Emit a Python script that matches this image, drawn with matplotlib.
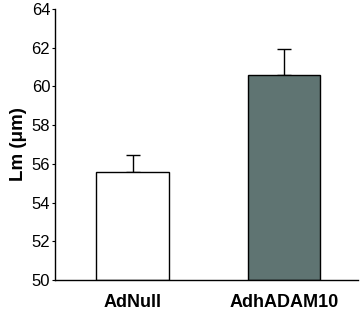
import matplotlib
matplotlib.use("Agg")
import matplotlib.pyplot as plt

groups = ["AdNull", "AdhADAM10"]
means = [55.6, 60.6]
errs = [0.85, 1.35]
colors = ["white", "#5f7472"]

plt.rcParams['font.family'] = ['Liberation Sans', 'DejaVu Sans']

fig = plt.figure(figsize=(3.6, 3.18), dpi=100)
ax = fig.add_axes([0.153, 0.1195, 0.841, 0.8522])

x = list(range(len(groups)))
ax.bar(x, [m - 50 for m in means], bottom=50, width=0.48, color=colors,
       edgecolor="black", linewidth=1.0, zorder=2)
ax.errorbar(x, means, yerr=[[0, 0], errs], fmt="none", ecolor="black",
            elinewidth=1.0, capsize=5, capthick=1.0, zorder=1)

ax.set_xlim(-0.512, 1.488)
ax.set_ylim(50, 64)
ax.set_yticks(range(50, 65, 2))
ax.set_xticks(x)
ax.set_xticklabels(groups, fontweight="bold", fontsize=13)
ax.tick_params(axis="x", length=0, pad=10)
ax.tick_params(axis="y", length=2.5, width=0.8, labelsize=12, pad=1)
ax.set_ylabel("Lm (μm)", fontweight="bold", fontsize=13.5, labelpad=3)

ax.spines["top"].set_visible(False)
ax.spines["right"].set_visible(False)
ax.spines["left"].set_linewidth(1.0)
ax.spines["bottom"].set_linewidth(1.0)

fig.savefig("out.png", dpi=100)
